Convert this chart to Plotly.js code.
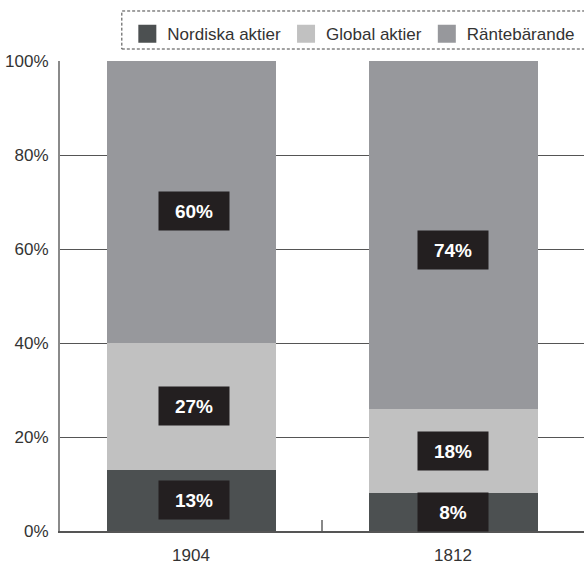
<!DOCTYPE html>
<html>
<head>
<meta charset="utf-8">
<script src="https://cdn.plot.ly/plotly-3.0.1.min.js"></script>
<style>
html,body{margin:0;padding:0;background:#fff;}
#chart{width:584px;height:565px;}
</style>
</head>
<body>
<div id="chart"></div>
<script>
const categories = ['1904', '1812'];
const seriesNames = ['Nordiska aktier', 'Global aktier', 'Räntebärande'];
const nordiska = [13, 8];
const global = [27, 18];
const rante = [60, 74];
const seriesValues = [nordiska, global, rante];
const yTickVals = [0, 20, 40, 60, 80, 100];
const yTickText = ['0%', '20%', '40%', '60%', '80%', '100%'];
const colors = ['#4c5051', '#c1c1c1', '#97989c'];
const FONT = 'Liberation Sans, Arial, sans-serif';

const traces = seriesValues.map((vals, i) => ({
  type: 'bar',
  name: seriesNames[i],
  x: categories,
  y: vals,
  marker: {color: colors[i], line: {width: 0}},
  width: 0.645,
  hoverinfo: 'skip'
}));

const annotations = [];
categories.forEach((c, ci) => {
  let base = 0;
  seriesValues.forEach((vals, si) => {
    const v = vals[ci];
    const isTop = si === seriesValues.length - 1;
    annotations.push({
      x: ci, y: base + v / 2, xref: 'x', yref: 'y',
      text: '<b>' + v + '%</b>',
      showarrow: false,
      bgcolor: '#231f20',
      width: 70, height: 38, borderpad: 0,
      xshift: ci === 0 ? 3 : 0,
      yshift: isTop ? -(v - 40) * 0.45 : 0,
      font: {family: FONT, size: 19, color: '#ffffff'}
    });
    base += v;
  });
});

const layout = {
  width: 584, height: 565,
  margin: {l: 60, r: 0, t: 61, b: 34, pad: 0},
  paper_bgcolor: '#ffffff', plot_bgcolor: '#ffffff',
  barmode: 'stack',
  bargap: 0.355,
  font: {family: FONT, size: 17, color: '#333333'},
  showlegend: true,
  legend: {
    orientation: 'h', x: 0.993, xanchor: 'right', y: 1.057, yanchor: 'middle',
    font: {family: FONT, size: 17, color: '#333333'},
    bgcolor: 'rgba(0,0,0,0)', borderwidth: 0, traceorder: 'normal'
  },
  xaxis: {
    type: 'category', range: [-0.5, 1.5], fixedrange: true,
    showgrid: false, zeroline: false,
    showline: true, linecolor: '#555555', linewidth: 2,
    ticks: 'inside', tickson: 'boundaries', ticklen: 11, tickcolor: '#888888', tickwidth: 2,
    ticklabelstandoff: 8,
    tickfont: {family: FONT, size: 17, color: '#333333'}
  },
  yaxis: {
    range: [0, 100], fixedrange: true,
    tickmode: 'array', tickvals: yTickVals, ticktext: yTickText,
    showgrid: true, gridcolor: '#555555', gridwidth: 1,
    zeroline: false, showline: true, linecolor: '#8a8a8a', linewidth: 2,
    ticks: '', ticklabelstandoff: 6,
    tickfont: {family: FONT, size: 17, color: '#333333'}
  },
  shapes: [{
    type: 'rect', xref: 'paper', yref: 'paper',
    x0: 0.118, x1: 1.02, y0: 1.0255, y1: 1.1064,
    line: {color: '#444444', width: 1, dash: '3px,2px'}
  }],
  annotations: annotations
};

Plotly.newPlot('chart', traces, layout, {displayModeBar: false, staticPlot: true}).then(gd => {
  gd.querySelectorAll('.legend .legendpoints path').forEach(p => {
    p.setAttribute('d', 'M9,9H-9V-9H9Z');
  });
});
</script>
</body>
</html>
